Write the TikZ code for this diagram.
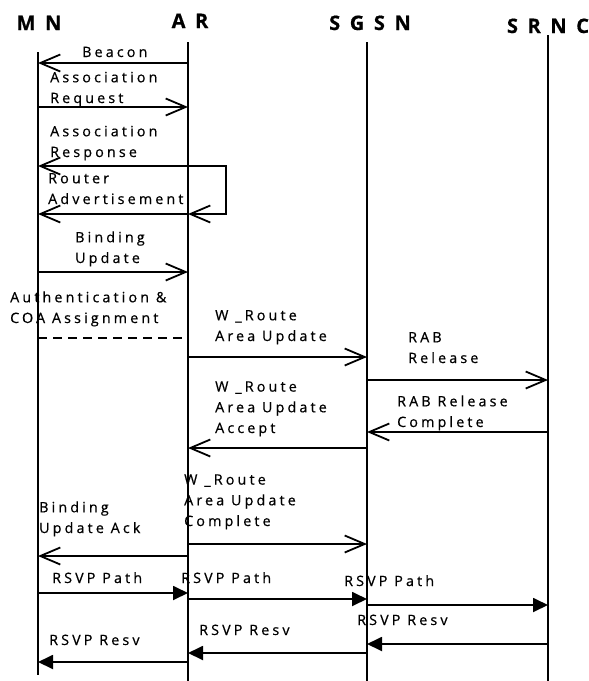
\documentclass[tikz,border=0pt]{standalone}
\usepackage{fontspec}
\setmainfont{Open Sans}[LetterSpace=22,FakeBold=0.6]
\usetikzlibrary{arrows.meta,positioning}
\tikzset{life/.style={line width=1.8pt},
 msg/.style={line width=1.8pt,-{Straight Barb[length=20pt,width=17pt]}},
 rsvp/.style={line width=1.8pt,-{Triangle[length=15pt,width=14pt]}},
 dsh/.style={line width=1.8pt,dash pattern=on 9pt off 6pt},
 hd/.style={font=\fontsize{20}{20}\selectfont\bfseries\addfontfeature{LetterSpace=48},inner sep=0pt,anchor=base},
 lb/.style={align=left,inner sep=0pt,anchor=base west},
 every node/.style={font=\fontsize{14.3}{20.7}\selectfont}}
\begin{document}
\begin{tikzpicture}[x=1pt,y=-1pt]
\useasboundingbox (0,0) rectangle (589,681);
\coordinate (mn) at (38,52);\coordinate (ar) at (188,42);\coordinate (sgsn) at (367,42);\coordinate (srnc) at (548,35);
\node[hd] (mnh) at (39,30) {MN};\node[hd] (arh) at (190,28) {AR};\node[hd] (sgsnh) at (370,30) {SGSN};\node[hd] (srnch) at (548,33) {SRNC};
\draw[life] (mn)--(mn|-0,675);\draw[life] (ar)--(ar|-0,681);\draw[life] (sgsn)--(sgsn|-0,681);\draw[life] (srnc)--(srnc|-0,681);
\draw[msg] (ar|-0,63)--(mn|-0,63);\node[lb] (bcn) at (82,57) {Beacon};
\draw[msg] (mn|-0,107)--(ar|-0,107);\node[lb] (areq) at (50,103) {Association\\Request};
\draw[msg] (ar|-0,166)--(mn|-0,166);\node[lb] (ares) at (50,157) {Association\\Response};
\coordinate (lpa) at (226,166);\coordinate (lpb) at (226,214);
\draw[msg] (ar|-lpa)--(lpa)--(lpb)--(ar|-lpb);
\draw[msg] (ar|-0,214)--(mn|-0,214);\node[lb] (radv) at (48,204) {Router\\Advertisement};
\draw[msg] (mn|-0,272)--(ar|-0,272);\node[lb] (bu) at (75,263) {Binding\\Update};
\node[lb] (auth) at (10,323) {Authentication \&\\COA Assignment};
\draw[dsh] (mn|-0,338)--([xshift=-3pt]ar|-0,338);
\draw[msg] (ar|-0,357)--(sgsn|-0,357);\node[lb] (wru) at (215,341) {W \_Route\\Area Update};
\draw[msg] (sgsn|-0,380)--(srnc|-0,380);\node[lb] (rab) at (408,363) {RAB\\Release};
\draw[msg] (srnc|-0,432)--(sgsn|-0,432);\node[lb] (rabc) at (397,427) {RAB Release\\Complete};
\draw[msg] (sgsn|-0,448)--(ar|-0,448);\node[lb] (wra) at (215,433) {W \_Route\\Area Update\\Accept};
\draw[msg] (ar|-0,544)--(sgsn|-0,544);\node[lb] (wrc) at (184,526) {W \_Route\\Area Update\\Complete};
\draw[msg] (ar|-0,556)--(mn|-0,556);\node[lb] (bua) at (39,533) {Binding\\Update Ack};
\draw[rsvp] (mn|-0,593)--(ar|-0,593);\node[lb] (pth1) at (52,583) {RSVP Path};
\draw[rsvp] (ar|-0,599)--(sgsn|-0,599);\node[lb] (pth2) at (181,583) {RSVP Path};
\draw[rsvp] (sgsn|-0,605)--(srnc|-0,605);\node[lb] (pth3) at (344,586) {RSVP Path};
\draw[rsvp] (srnc|-0,644)--(sgsn|-0,644);\node[lb] (rsv1) at (357,625) {RSVP Resv};
\draw[rsvp] (sgsn|-0,653)--(ar|-0,653);\node[lb] (rsv2) at (199,635) {RSVP Resv};
\draw[rsvp] (ar|-0,662)--(mn|-0,662);\node[lb] (rsv3) at (49,645) {RSVP Resv};
\end{tikzpicture}
\end{document}
